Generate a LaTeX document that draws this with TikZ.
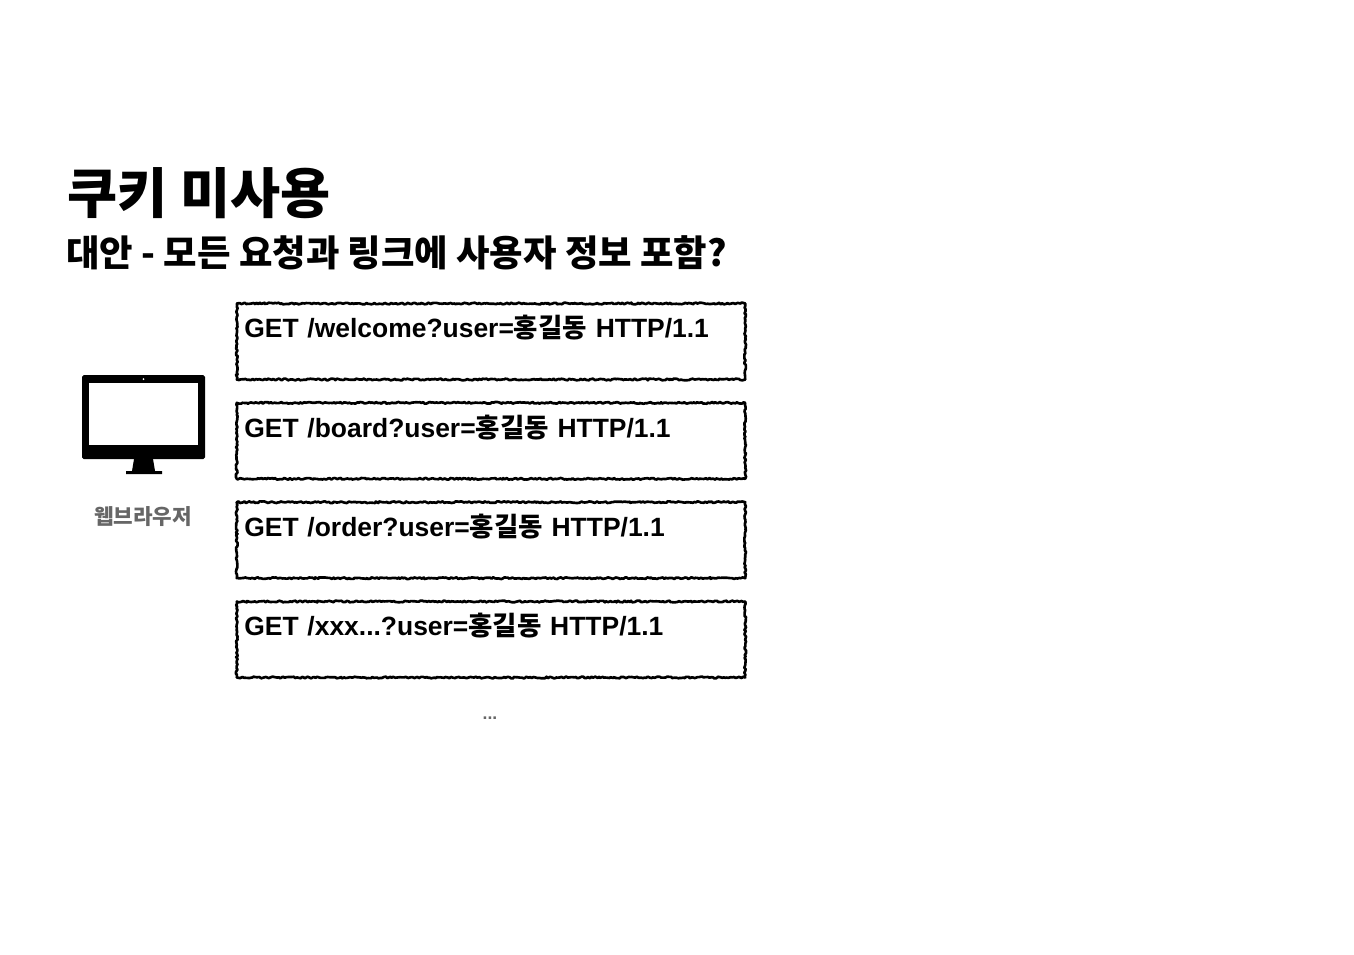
\documentclass[tikz,border=0pt]{standalone}
\usepackage{fontspec}
\setmainfont{Liberation Sans}
\newfontfamily\kr{Noto Sans CJK KR}
\usetikzlibrary{decorations.pathmorphing}
\definecolor{labelgray}{HTML}{666666}
\tikzstyle{title} = [anchor=west, inner sep=0pt, font=\kr\bfseries\fontsize{31}{36}\selectfont]
\tikzstyle{subtitle} = [anchor=west, inner sep=0pt, font=\kr\bfseries\fontsize{20.7}{24}\selectfont]
\tikzstyle{req} = [rectangle, draw=black, line width=1.5pt, line join=round, minimum width=10.17cm, minimum height=1.52cm, text width=9.87cm, inner xsep=0.13cm, inner ysep=0pt, align=left, font=\bfseries\fontsize{15.05}{21}\selectfont, decorate, decoration={random steps, segment length=1pt, amplitude=0.5pt}]
\tikzstyle{browser} = [inner sep=0pt, text=labelgray, font=\kr\bfseries\fontsize{12.1}{14}\selectfont]
\tikzstyle{dots} = [inner sep=0pt, text=labelgray, font=\bfseries\fontsize{10}{11}\selectfont]

\begin{document}
\begin{tikzpicture}[x=0.02cm, y=-0.02cm, node distance=1.987cm]
\useasboundingbox (0,0) rectangle (1354,954);

\node (title) [title] at (67,193) {쿠키 미사용};
\node (sub) [subtitle] at (66,253) {대안 - 모든 요청과 링크에 사용자 정보 포함?};

\node (r1) [req] at (491,341.5) {GET /welcome?user={\kr 홍길동} HTTP/1.1\\[-4pt]~};
\node (r2) [req, below of=r1] {GET /board?user={\kr 홍길동} HTTP/1.1\\[-4pt]~};
\node (r3) [req, below of=r2] {GET /order?user={\kr 홍길동} HTTP/1.1\\[-4pt]~};
\node (r4) [req, below of=r3] {GET /xxx...?user={\kr 홍길동} HTTP/1.1\\[-4pt]~};
\node (more) [dots] at (490,718) {...};

% monitor
\fill [rounded corners=1pt] (82,375) rectangle (205,459);
\fill [white] (89,383) rectangle (198,445);
\fill [white] (143.5,379) circle (1);
\fill (134,459) -- (153,459) -- (155,471) -- (162,471) -- (162,474) -- (126,474) -- (126,471) -- (132,471) -- cycle;
\node (web) [browser] at (143,517) {웹브라우저};

\end{tikzpicture}
\end{document}
